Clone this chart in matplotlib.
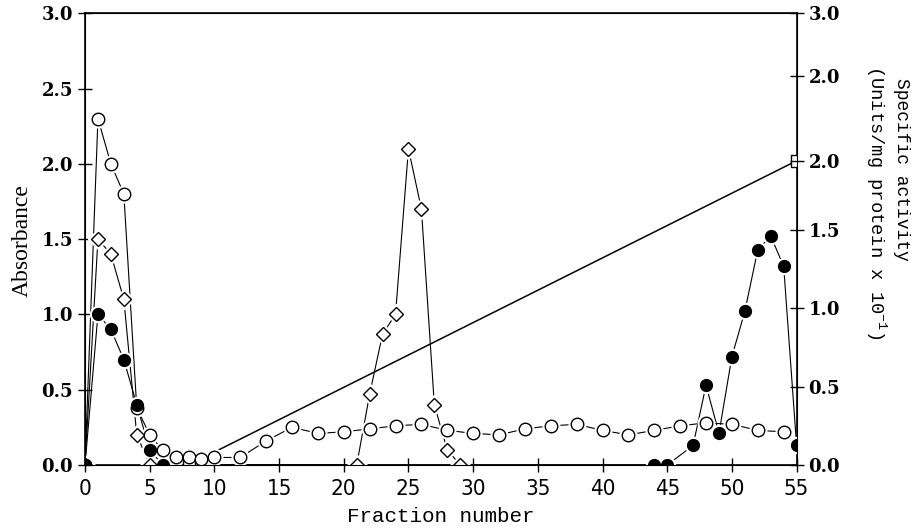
import matplotlib
matplotlib.use('Agg')
import matplotlib.pyplot as plt

# absorbance (open circles)
circ_x = [0, 1, 2, 3, 4, 5, 6, 7, 8, 9, 10, 12, 14, 16, 18, 20, 22, 24, 26, 28, 30,
          32, 34, 36, 38, 40, 42, 44, 46, 48, 50, 52, 54]
circ_y = [0, 2.3, 2.0, 1.8, 0.38, 0.2, 0.1, 0.05, 0.05, 0.04, 0.05, 0.05, 0.16, 0.25,
          0.21, 0.22, 0.24, 0.26, 0.27, 0.23, 0.21, 0.2, 0.24, 0.26, 0.27, 0.23, 0.2,
          0.23, 0.26, 0.28, 0.27, 0.23, 0.22]
# filled circles
fill_x = [0, 1, 2, 3, 4, 5, 6, 44, 45, 47, 48, 49, 50, 51, 52, 53, 54, 55]
fill_y = [0, 1.0, 0.9, 0.7, 0.4, 0.1, 0.0, 0.0, 0.0, 0.13, 0.53, 0.21, 0.72, 1.02,
          1.43, 1.52, 1.32, 0.13]
# open diamonds
diam_x = [0, 1, 2, 3, 4, 5, 21, 22, 23, 24, 25, 26, 27, 28, 29]
diam_y = [0, 1.5, 1.4, 1.1, 0.2, 0, 0, 0.47, 0.87, 1.0, 2.1, 1.7, 0.4, 0.1, 0]
# gradient (open squares)
grad_x = [8, 55]
grad_y = [0, 2.02]

xticks = list(range(0, 56, 5))
left_ticks = [0, 0.5, 1.0, 1.5, 2.0, 2.5, 3.0]
right_pos = [0, 0.52, 1.04, 1.56, 2.02, 2.58, 3.0]
right_labels = ['0.0', '0.5', '1.0', '1.5', '2.0', '2.0', '3.0']

fig = plt.figure(figsize=(9.17, 5.29), dpi=100)
ax = fig.add_axes([0.0927, 0.121, 0.776, 0.854])

def series(x, y, marker, ms, face):
    ax.plot(x, y, '-', color='black', lw=0.8, zorder=2)
    ax.plot(x, y, linestyle='none', marker=marker, ms=ms + 3, mfc='white',
            mec='white', zorder=3)
    ax.plot(x, y, linestyle='none', marker=marker, ms=ms, mfc=face,
            mec='black', mew=1.0, zorder=4)

ax.plot(grad_x, grad_y, '-', color='black', lw=1.1, zorder=2)
ax.plot(grad_x, grad_y, 's', ms=8, mfc='white', mec='black', mew=1.0, zorder=4)
series(circ_x, circ_y, 'o', 9, 'white')
series(diam_x, diam_y, 'D', 7, 'white')
series(fill_x, fill_y, 'o', 8.5, 'black')

ax.set_xlim(0, 55)
ax.set_ylim(0, 3.0)
ax.set_xticks(xticks)
ax.set_yticks(left_ticks)
ax.set_yticklabels(['%.1f' % v for v in left_ticks])
for sp in ax.spines.values():
    sp.set_linewidth(1.2)
ax.tick_params(direction='inout', length=10, width=1.0)
ax.tick_params(axis='x', pad=5)
for t in ax.get_xticklabels():
    t.set_fontfamily('DejaVu Sans')
    t.set_fontstretch('condensed')
    t.set_fontweight('light')
    t.set_fontsize(16)
for t in ax.get_yticklabels():
    t.set_fontfamily('DejaVu Serif')
    t.set_fontweight('bold')
    t.set_fontsize(13)

ax2 = ax.twinx()
ax2.set_ylim(0, 3.0)
ax2.set_yticks(right_pos)
ax2.set_yticklabels(right_labels)
ax2.tick_params(direction='inout', length=10, width=1.0)
for t in ax2.get_yticklabels():
    t.set_fontfamily('DejaVu Serif')
    t.set_fontweight('bold')
    t.set_fontsize(13)

ax.set_xlabel('Fraction number', family='Liberation Mono', fontsize=15, labelpad=6)
fig.text(0.024, 0.545, 'Absorbance', family='Liberation Serif', fontsize=17,
         rotation=90, ha='center', va='center')
fig.text(0.983, 0.852, 'Specific activity', family='Liberation Mono', fontsize=13,
         rotation=270, ha='center', va='top')
fig.text(0.955, 0.877, '(Units/mg protein x 10$^{\\mathregular{-1}}$)',
         family='Liberation Mono', fontsize=13.5, rotation=270, ha='center', va='top')

fig.savefig('out.png', dpi=100)
